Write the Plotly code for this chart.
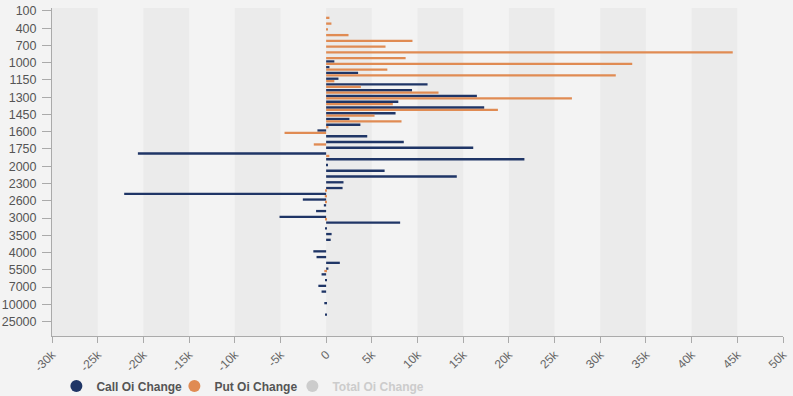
import plotly.graph_objects as go

strikes = ["100", "200", "300", "400", "500", "600", "700", "800", "900", "1000",
           "1050", "1100", "1150", "1200", "1250", "1300", "1350", "1400", "1450", "1500",
           "1550", "1600", "1650", "1700", "1750", "1800", "1900", "2000", "2100", "2200",
           "2300", "2400", "2500", "2600", "2700", "2800", "3000", "3200", "3400", "3500",
           "3600", "3800", "4000", "4500", "5000", "5500", "6000", "6500", "7000", "8000",
           "9000", "10000", "15000", "20000", "25000", "30000", "35000"]

call_oi_change = [0, 0, 0, 0, 0, 0, 0, 0, 0, 900,
                  360, 3500, 1350, 11100, 9400, 16500, 7900, 17300, 7600, 2550,
                  3750, -950, 4500, 8500, 16100, -20600, 21700, 150, 6400, 14300,
                  1900, 1800, -22100, -2550, -250, -1100, -5100, 8100, -100, 600,
                  500, 0, -1400, -1050, 1500, 250, -500, -100, -850, -500,
                  0, -200, 0, -100, 0, 0, 0]

put_oi_change = [0, 360, 580, 150, 2450, 9450, 6500, 44500, 8700, 33500,
                 6700, 31700, 900, 3800, 12300, 26900, 7300, 18800, 5300, 8250,
                 250, -4550, 0, -1350, 0, 350, 0, 0, 0, 0,
                 0, -100, -150, -100, 0, 0, -100, 0, 0, 0,
                 0, 0, 0, 0, 0, -200, 0, 0, 0, 0,
                 0, 0, 0, 0, 0, 0, 0]

y_tick_labels = ["100", "400", "700", "1000", "1150", "1300", "1450", "1600", "1750", "2000",
                 "2300", "2600", "3000", "3500", "4000", "5500", "7000", "10000", "25000"]

x_tick_vals = list(range(-30000, 50001, 5000))
x_tick_text = ["-30k", "-25k", "-20k", "-15k", "-10k", "-5k", "0", "5k", "10k", "15k",
               "20k", "25k", "30k", "35k", "40k", "45k", "50k"]

CALL_COLOR = "#1f3566"
PUT_COLOR = "#e08b53"
TOTAL_COLOR = "#cccccc"

fig = go.Figure()
fig.add_trace(go.Bar(y=strikes, x=call_oi_change, orientation="h", name="Call Oi Change",
                     marker=dict(color=CALL_COLOR, line=dict(width=0)), showlegend=False))
fig.add_trace(go.Bar(y=strikes, x=put_oi_change, orientation="h", name="Put Oi Change",
                     marker=dict(color=PUT_COLOR, line=dict(width=0)), showlegend=False))

# legend entries with round markers
for name, col in [("Call Oi Change", CALL_COLOR), ("Put Oi Change", PUT_COLOR)]:
    fig.add_trace(go.Scatter(x=[None], y=[None], mode="markers", name=name,
                             marker=dict(color=col, size=14, symbol="circle")))
# hidden (toggled-off) total series, shown greyed out in the legend
fig.add_trace(go.Scatter(x=[None], y=[None], mode="markers",
                         name='<span style="color:#cccccc">Total Oi Change</span>',
                         marker=dict(color=TOTAL_COLOR, size=14, symbol="circle")))
# spacer entry so the last legend label is not clipped
fig.add_trace(go.Scatter(x=[None], y=[None], mode="markers", name=" ",
                         marker=dict(color="rgba(0,0,0,0)", size=1), hoverinfo="skip"))

# alternating split areas
shapes = []
for i in range(0, len(x_tick_vals) - 1, 2):
    shapes.append(dict(type="rect", xref="x", yref="paper",
                       x0=x_tick_vals[i], x1=x_tick_vals[i + 1], y0=0, y1=1,
                       fillcolor="#ebebeb", line=dict(width=0), layer="below"))

fig.update_layout(
    width=793, height=396,
    margin=dict(l=52, r=10, t=8, b=60),
    paper_bgcolor="#f3f3f3", plot_bgcolor="#f3f3f3",
    barmode="group", bargap=0.15, bargroupgap=0.05,
    font=dict(family="Liberation Sans, Arial, sans-serif", color="#555555"),
    shapes=shapes,
    showlegend=True,
    legend=dict(orientation="h", x=0.006, xanchor="left",
                yref="container", y=10 / 396, yanchor="middle",
                font=dict(size=12, color="#555555", weight="bold"),
                entrywidth=73, entrywidthmode="pixels",
                itemsizing="constant", tracegroupgap=0, bgcolor="rgba(0,0,0,0)"),
    xaxis=dict(range=[-30000, 50000], tickmode="array", tickvals=x_tick_vals,
               ticktext=x_tick_text, tickangle=-45, showgrid=False, zeroline=False,
               showline=True, linecolor="#aaaaaa", linewidth=1,
               ticks="outside", ticklen=6, tickcolor="#aaaaaa",
               tickfont=dict(size=12, color="#666666"), automargin=False),
    yaxis=dict(type="category", autorange="reversed", categoryorder="array",
               categoryarray=strikes, tickmode="array", tickvals=y_tick_labels,
               ticktext=y_tick_labels, showgrid=False, zeroline=False,
               showline=True, linecolor="#aaaaaa", linewidth=1,
               ticks="outside", ticklen=9, tickcolor="#aaaaaa", ticklabelstandoff=3,
               tickfont=dict(size=12.5, color="#555555"), automargin=False),
)

fig.write_html("out.html", config={"displayModeBar": False})

# remove default body margin so the figure sits at the page origin
with open("out.html", "r", encoding="utf-8") as f:
    html = f.read()
html = html.replace("<body>", '<body style="margin:0;padding:0;overflow:hidden">', 1)
with open("out.html", "w", encoding="utf-8") as f:
    f.write(html)
